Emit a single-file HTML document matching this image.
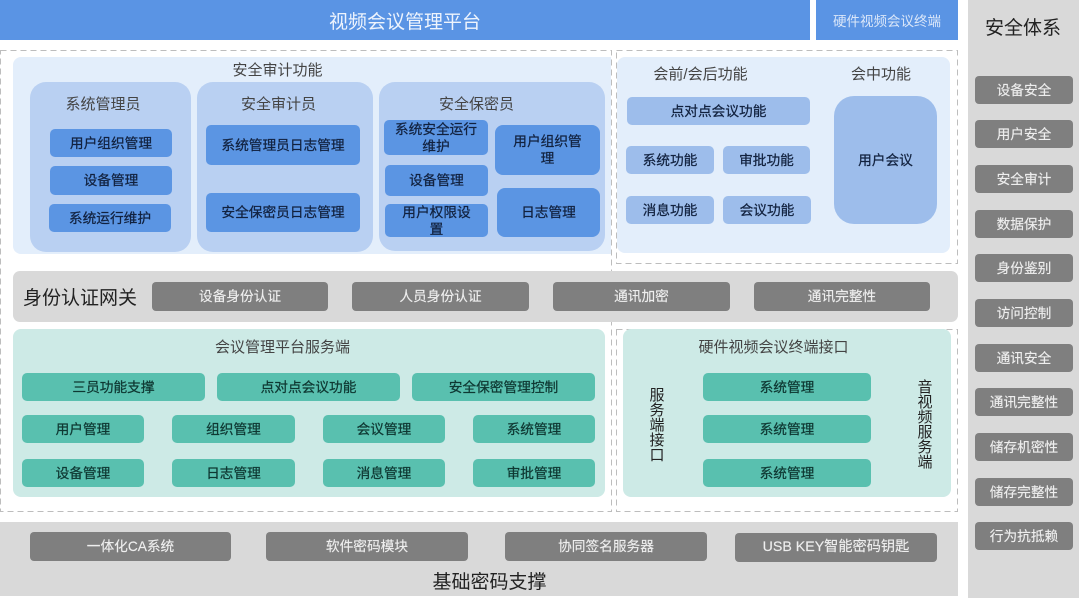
<!DOCTYPE html>
<html lang="zh">
<head>
<meta charset="utf-8">
<style>
html,body{margin:0;padding:0;background:#fff}
#p{position:relative;width:1080px;height:598px;overflow:hidden;background:#fff;font-family:"Liberation Sans","Noto Sans CJK SC",sans-serif;color:#3a3a3a;filter:blur(.35px)}
#p div{position:absolute;box-sizing:border-box;display:flex;align-items:center;justify-content:center;text-align:center;white-space:nowrap}
#p svg{position:absolute;left:0;top:0}
.t{font-size:15px;color:#444;line-height:20px}
.b{background:#5b95e3;border-radius:5px;font-size:13.7px;line-height:17px;color:#12223f;white-space:normal!important;-webkit-text-stroke:.25px #12223f}
.l{background:#9dbdeb;border-radius:5px;font-size:13.7px;color:#12223f;padding-bottom:2px;-webkit-text-stroke:.25px #12223f}
.g{background:#7f7f7f;border-radius:4px;font-size:13.7px;color:#eee;padding-bottom:3px;-webkit-text-stroke:.15px #eee}
.s{background:#59c0af;border-radius:5px;font-size:13.7px;color:#0f3833;padding-bottom:2px;-webkit-text-stroke:.25px #0f3833}
.c{background:#cdeae6;border-radius:8px}
</style>
</head>
<body>
<div id="p">
<div style="left:0;top:0;width:810px;height:40px;background:#5a94e4;color:#eef4fd;font-size:19px">视频会议管理平台</div>
<div style="left:816px;top:0;width:142px;height:40px;background:#5a94e4;color:#dbe7f9;font-size:13.5px">硬件视频会议终端</div>
<div style="left:968px;top:0;width:111px;height:598px;background:#d9d9d9"></div>

<svg width="1080" height="598" fill="none" stroke="#bdbdbd" stroke-width="1" stroke-dasharray="6 4">
<rect x="0.5" y="50.5" width="611" height="461"/>
<rect x="616.5" y="50.5" width="341" height="213"/>
<rect x="616.5" y="329.5" width="341" height="182"/>
</svg>

<div style="left:13px;top:57px;width:598px;height:197px;background:#e3eefb;border-radius:8px 0 0 8px"></div>
<div style="left:617px;top:57px;width:333px;height:196px;background:#e3eefb;border-radius:8px"></div>
<div class="t" style="left:233px;top:61px;width:89px;height:20px">安全审计功能</div>

<div style="left:30px;top:82px;width:161px;height:170px;background:#b9d0f2;border-radius:16px"></div>
<div style="left:197px;top:82px;width:176px;height:170px;background:#b9d0f2;border-radius:16px"></div>
<div style="left:379px;top:82px;width:226px;height:169px;background:#b9d0f2;border-radius:16px"></div>
<div class="t" style="left:66px;top:95px;width:74px;height:20px">系统管理员</div>
<div class="t" style="left:241px;top:95px;width:75px;height:20px">安全审计员</div>
<div class="t" style="left:439px;top:95px;width:75px;height:20px">安全保密员</div>

<div class="b" style="left:50px;top:129px;width:122px;height:28px">用户组织管理</div>
<div class="b" style="left:50px;top:166px;width:122px;height:29px">设备管理</div>
<div class="b" style="left:49px;top:204px;width:122px;height:28px">系统运行维护</div>
<div class="b" style="left:206px;top:125px;width:154px;height:40px">系统管理员日志管理</div>
<div class="b" style="left:206px;top:193px;width:154px;height:39px">安全保密员日志管理</div>
<div class="b" style="left:384px;top:120px;width:104px;height:35px;padding:0 8px">系统安全运行维护</div>
<div class="b" style="left:385px;top:165px;width:103px;height:31px">设备管理</div>
<div class="b" style="left:385px;top:204px;width:103px;height:33px;padding:0 15px">用户权限设置</div>
<div class="b" style="left:495px;top:125px;width:105px;height:50px;border-radius:8px;padding:0 12px">用户组织管理</div>
<div class="b" style="left:497px;top:188px;width:103px;height:49px;border-radius:8px">日志管理</div>

<div class="t" style="left:654px;top:65px;width:93px;height:20px">会前/会后功能</div>
<div class="t" style="left:851px;top:65px;width:60px;height:20px">会中功能</div>
<div class="l" style="left:627px;top:97px;width:183px;height:28px">点对点会议功能</div>
<div class="l" style="left:626px;top:146px;width:88px;height:28px">系统功能</div>
<div class="l" style="left:723px;top:146px;width:87px;height:28px">审批功能</div>
<div class="l" style="left:626px;top:196px;width:88px;height:28px">消息功能</div>
<div class="l" style="left:723px;top:196px;width:88px;height:28px">会议功能</div>
<div class="l" style="left:834px;top:96px;width:103px;height:128px;border-radius:20px">用户会议</div>

<div style="left:13px;top:271px;width:945px;height:51px;background:#d9d9d9;border-radius:7px"></div>
<div style="left:23px;top:285px;width:114px;height:22px;font-size:19px;color:#222">身份认证网关</div>
<div class="g" style="left:152px;top:282px;width:176px;height:29px">设备身份认证</div>
<div class="g" style="left:352px;top:282px;width:177px;height:29px">人员身份认证</div>
<div class="g" style="left:553px;top:282px;width:177px;height:29px">通讯加密</div>
<div class="g" style="left:754px;top:282px;width:176px;height:29px">通讯完整性</div>

<div class="c" style="left:13px;top:329px;width:592px;height:168px"></div>
<div class="c" style="left:623px;top:329px;width:328px;height:168px"></div>
<div class="t" style="left:215px;top:338px;width:135px;height:20px">会议管理平台服务端</div>
<div class="t" style="left:699px;top:338px;width:149px;height:20px">硬件视频会议终端接口</div>

<div class="s" style="left:22px;top:373px;width:183px;height:28px">三员功能支撑</div>
<div class="s" style="left:217px;top:373px;width:183px;height:28px">点对点会议功能</div>
<div class="s" style="left:412px;top:373px;width:183px;height:28px">安全保密管理控制</div>
<div class="s" style="left:22px;top:415px;width:122px;height:28px">用户管理</div>
<div class="s" style="left:172px;top:415px;width:123px;height:28px">组织管理</div>
<div class="s" style="left:323px;top:415px;width:122px;height:28px">会议管理</div>
<div class="s" style="left:473px;top:415px;width:122px;height:28px">系统管理</div>
<div class="s" style="left:22px;top:459px;width:122px;height:28px">设备管理</div>
<div class="s" style="left:172px;top:459px;width:123px;height:28px">日志管理</div>
<div class="s" style="left:323px;top:459px;width:122px;height:28px">消息管理</div>
<div class="s" style="left:473px;top:459px;width:122px;height:28px">审批管理</div>

<div class="s" style="left:703px;top:373px;width:168px;height:28px">系统管理</div>
<div class="s" style="left:703px;top:415px;width:168px;height:28px">系统管理</div>
<div class="s" style="left:703px;top:459px;width:168px;height:28px">系统管理</div>
<div style="left:649px;top:388px;width:16px;height:74px;font-size:15px;line-height:15px;white-space:normal;color:#222">服务端接口</div>
<div style="left:917px;top:380px;width:16px;height:90px;font-size:15px;line-height:15px;white-space:normal;color:#222">音视频服务端</div>

<div style="left:0;top:522px;width:958px;height:74px;background:#d9d9d9"></div>
<div class="g" style="left:30px;top:532px;width:201px;height:29px">一体化CA系统</div>
<div class="g" style="left:266px;top:532px;width:202px;height:29px">软件密码模块</div>
<div class="g" style="left:505px;top:532px;width:202px;height:29px">协同签名服务器</div>
<div class="g" style="left:735px;top:533px;width:202px;height:29px;font-size:14.2px">USB KEY智能密码钥匙</div>
<div style="left:432px;top:569px;width:115px;height:22px;font-size:19px;color:#222">基础密码支撑</div>

<div style="left:985px;top:15px;width:76px;height:22px;font-size:19px;color:#222">安全体系</div>
<div class="g" style="left:975px;top:76px;width:98px;height:28px">设备安全</div>
<div class="g" style="left:975px;top:120px;width:98px;height:28px">用户安全</div>
<div class="g" style="left:975px;top:165px;width:98px;height:28px">安全审计</div>
<div class="g" style="left:975px;top:210px;width:98px;height:28px">数据保护</div>
<div class="g" style="left:975px;top:254px;width:98px;height:28px">身份鉴别</div>
<div class="g" style="left:975px;top:299px;width:98px;height:28px">访问控制</div>
<div class="g" style="left:975px;top:344px;width:98px;height:28px">通讯安全</div>
<div class="g" style="left:975px;top:388px;width:98px;height:28px">通讯完整性</div>
<div class="g" style="left:975px;top:433px;width:98px;height:28px">储存机密性</div>
<div class="g" style="left:975px;top:478px;width:98px;height:28px">储存完整性</div>
<div class="g" style="left:975px;top:522px;width:98px;height:28px">行为抗抵赖</div>
</div>
</body>
</html>
